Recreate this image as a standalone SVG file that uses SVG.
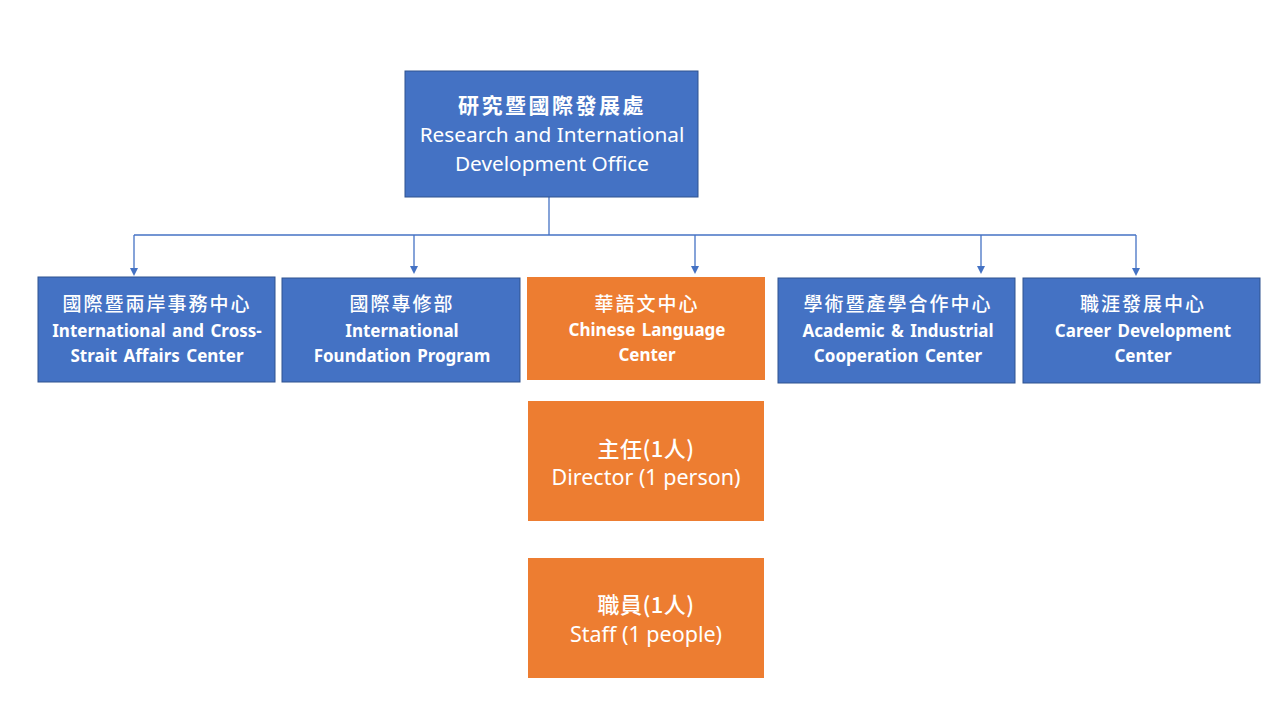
<svg xmlns="http://www.w3.org/2000/svg" width="1280" height="720" viewBox="0 0 1280 720">
<style>
.b{fill:#4472C4;stroke:#2F528F;stroke-width:1}
.o{fill:#ED7D31}
text{fill:#fff;text-anchor:middle;font-family:"Noto Sans","Noto Sans CJK TC",sans-serif}
.zh{font-size:19px;font-weight:500;letter-spacing:2px;font-family:"Noto Sans CJK TC",sans-serif}
.zhb{font-size:21px;font-weight:bold;letter-spacing:2.5px;font-family:"Noto Sans CJK TC",sans-serif}
.zhd{font-size:22px;font-weight:500;letter-spacing:0.5px;font-family:"Noto Sans CJK TC",sans-serif}
.en{font-size:17px;font-weight:bold;word-spacing:2px}
.enr{font-size:20.8px}
.enr2{font-size:21.5px}
.c{fill:none;stroke:#4472C4;stroke-width:1.3}
.ah{fill:#4472C4}
</style>
<rect width="1280" height="720" fill="#fff"/>
<g id="connectors">
<path class="c" d="M549,197 V235"/>
<path class="c" d="M134,235 H1136"/>
<path class="c" d="M134,235 V269"/>
<path class="c" d="M414,235 V267"/>
<path class="c" d="M695,235 V267"/>
<path class="c" d="M981,235 V267"/>
<path class="c" d="M1136,235 V269"/>
<path class="ah" d="M130,268 L138,268 L134,276 Z"/>
<path class="ah" d="M410,266 L418,266 L414,274 Z"/>
<path class="ah" d="M691,266 L699,266 L695,274 Z"/>
<path class="ah" d="M977,266 L985,266 L981,274 Z"/>
<path class="ah" d="M1132,268 L1140,268 L1136,276 Z"/>
</g>
<g id="top">
<rect class="b" x="405" y="71" width="293" height="126"/>
<text class="zhb" x="552" y="113">研究暨國際發展處</text>
<text class="enr" x="552" y="142">Research and International</text>
<text class="enr" x="552" y="171">Development Office</text>
</g>
<g id="n1">
<rect class="b" x="38" y="277" width="237" height="105"/>
<text class="zh" x="157" y="311">國際暨兩岸事務中心</text>
<text class="en" x="157" y="337">International and Cross-</text>
<text class="en" x="157" y="362">Strait Affairs Center</text>
</g>
<g id="n2">
<rect class="b" x="282" y="278" width="238" height="104"/>
<text class="zh" x="402" y="311">國際專修部</text>
<text class="en" x="402" y="337">International</text>
<text class="en" x="402" y="362">Foundation Program</text>
</g>
<g id="n3">
<rect class="o" x="527" y="277" width="238" height="103"/>
<text class="zh" x="647" y="311">華語文中心</text>
<text class="en" x="647" y="336">Chinese Language</text>
<text class="en" x="647" y="361">Center</text>
</g>
<g id="n4">
<rect class="b" x="778" y="278" width="237" height="105"/>
<text class="zh" x="898" y="311">學術暨產學合作中心</text>
<text class="en" x="898" y="337">Academic &amp; Industrial</text>
<text class="en" x="898" y="362">Cooperation Center</text>
</g>
<g id="n5">
<rect class="b" x="1023" y="278" width="237" height="105"/>
<text class="zh" x="1143" y="311">職涯發展中心</text>
<text class="en" x="1143" y="337">Career Development</text>
<text class="en" x="1143" y="362">Center</text>
</g>
<g id="director">
<rect class="o" x="528" y="401" width="236" height="120"/>
<text class="zhd" x="646" y="457">主任(1人)</text>
<text class="enr2" x="646" y="485">Director (1 person)</text>
</g>
<g id="staff">
<rect class="o" x="528" y="558" width="236" height="120"/>
<text class="zhd" x="646" y="613">職員(1人)</text>
<text class="enr2" x="646" y="642">Staff (1 people)</text>
</g>
</svg>
